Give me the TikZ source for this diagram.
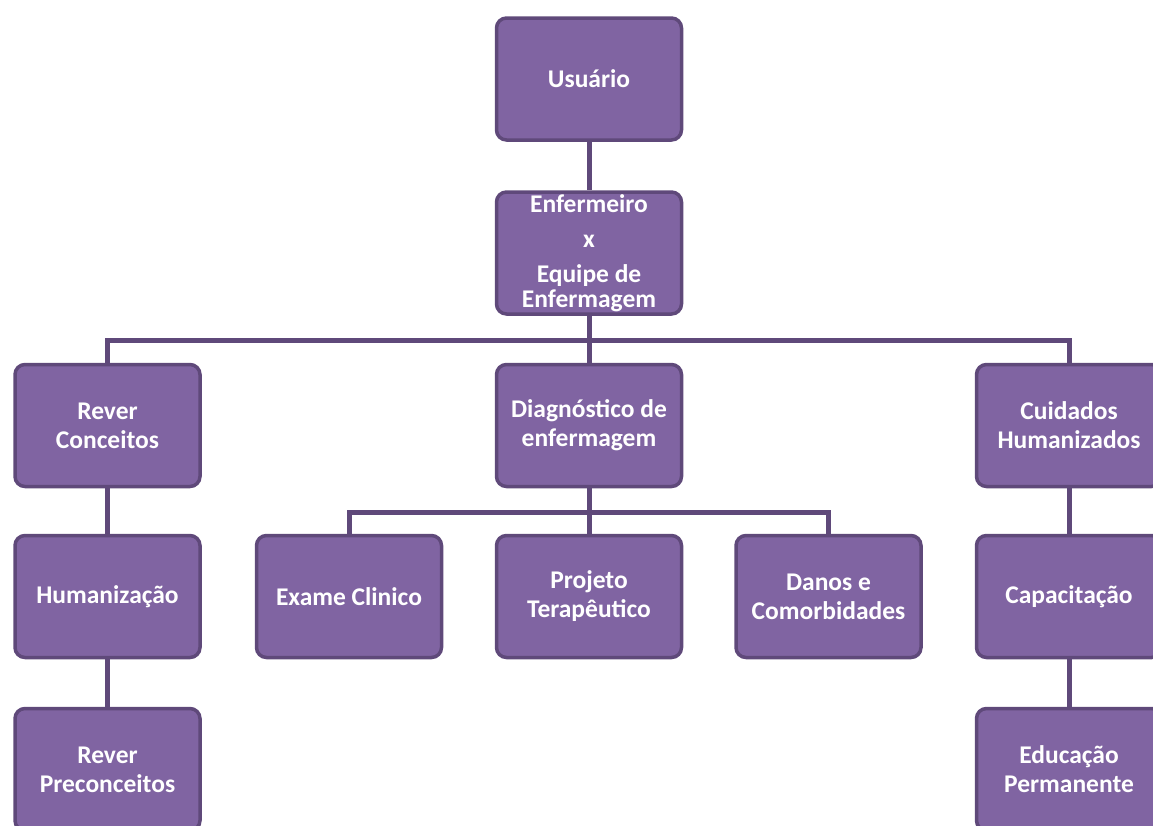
\documentclass[tikz,border=0pt]{standalone}
\usepackage{fontspec}
\setmainfont{Carlito}
\usetikzlibrary{backgrounds}
\definecolor{boxfill}{HTML}{8064A2}
\definecolor{boxline}{HTML}{5F497A}
\tikzset{
  x=1pt,y=-1pt,
  orgbox/.style={draw=boxline, line width=3.5pt, fill=boxfill, rounded corners=10pt,
    minimum width=185pt, minimum height=122pt, inner sep=0pt,
    text=white, font=\bfseries\fontsize{25.5}{29}\selectfont, align=center},
  link/.style={draw=boxline, line width=5pt}
}
\begin{document}
\begin{tikzpicture}
\useasboundingbox (0,0) rectangle (1153,825);
\clip (0,0) rectangle (1153,825);
\node[orgbox] (usr) at (589,79) {Usuário};
\node[orgbox] (enf) at (589,253) {Enfermeiro\\[6pt] x\\[6pt] Equipe de\\[-4pt] Enfermagem};
\node[orgbox] (rev) at (107.5,425.5) {Rever\\Conceitos};
\node[orgbox] (diag) at (589,425.5) {Diagnóstico de\\enfermagem};
\node[orgbox] (cuid) at (1069,425.5) {Cuidados\\Humanizados};
\node[orgbox] (hum) at (107.5,596.5) {Humanização};
\node[orgbox] (exam) at (349,596.5) {Exame Clinico};
\node[orgbox] (proj) at (589,596.5) {Projeto\\Terapêutico};
\node[orgbox] (danos) at (828.5,596.5) {Danos e\\Comorbidades};
\node[orgbox] (cap) at (1069,596.5) {Capacitação};
\node[orgbox] (prec) at (107.5,769.5) {Rever\\Preconceitos};
\node[orgbox] (edu) at (1069,769.5) {Educação\\Permanente};
\begin{pgfonlayer}{background}
\draw[link] (usr.south) -- (enf.north);
\draw[link] (enf.south) -- (diag.north);
\draw[link] (rev.north) |- (589,340) -| (cuid.north);
\draw[link] (diag.south) -- (proj.north);
\draw[link] (exam.north) |- (589,512) -| (danos.north);
\draw[link] (rev.south) -- (hum.north);
\draw[link] (hum.south) -- (prec.north);
\draw[link] (cuid.south) -- (cap.north);
\draw[link] (cap.south) -- (edu.north);
\end{pgfonlayer}
\end{tikzpicture}
\end{document}
